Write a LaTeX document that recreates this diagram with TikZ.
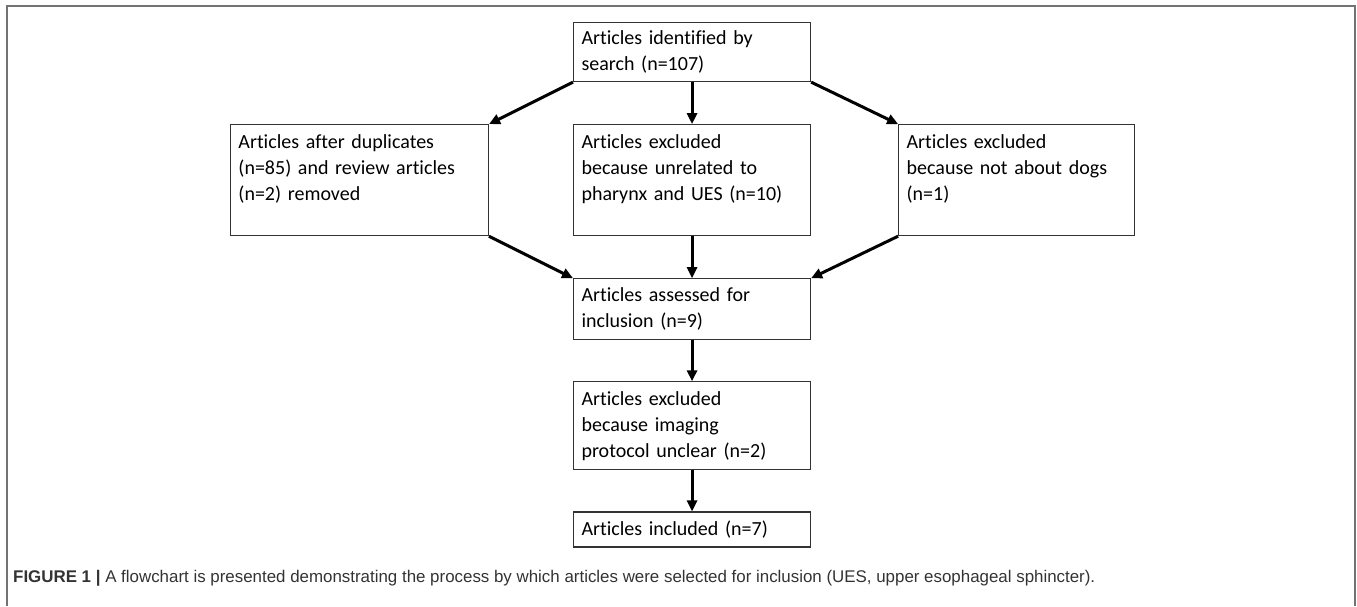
\documentclass[tikz,border=0pt]{standalone}
\usepackage{fontspec}
\setmainfont{Carlito}[Ligatures=NoCommon]
\newfontfamily\captionfont{Liberation Sans}
\usetikzlibrary{positioning,arrows.meta}

\begin{document}
\begin{tikzpicture}[x=1pt,y=-1pt]
\tikzstyle{flowbox}=[draw=black!80,line width=1.1pt,align=left,inner xsep=8pt,
  inner ysep=0pt,font=\fontsize{20}{26}\selectfont]
\tikzstyle{flowarrow}=[-{Triangle[length=11pt,width=10pt]},line width=3pt]

%% Page and outer frame
\useasboundingbox (0,0) rectangle (1357,606);
\draw[black!55,line width=1.5pt] (7,606) -- (7,6) -- (1355,6) -- (1355,606);

%% Flowchart boxes
\node [flowbox,anchor=north west,text width=221pt,minimum height=59pt] (search)
  at (573,22) {Articles identified by\\search (n=107)};
\node [flowbox,below=42pt of search,text width=221pt,minimum height=111pt] (unrelated)
  {Articles excluded\\because unrelated to\\pharynx and UES (n=10)\\\mbox{}};
\node [flowbox,left=84pt of unrelated,text width=242pt,minimum height=111pt] (duplicates)
  {Articles after duplicates\\(n=85) and review articles\\(n=2) removed\\\mbox{}};
\node [flowbox,right=87pt of unrelated,text width=220pt,minimum height=111pt] (dogs)
  {Articles excluded\\because not about dogs\\(n=1)\\\mbox{}};
\node [flowbox,below=42pt of unrelated,text width=221pt,minimum height=61pt] (assessed)
  {Articles assessed for\\inclusion (n=9)};
\node [flowbox,below=41pt of assessed,text width=221pt,minimum height=88pt] (imaging)
  {Articles excluded\\because imaging\\protocol unclear (n=2)};
\node [flowbox,below=41pt of imaging,text width=221pt,minimum height=35pt] (included)
  {Articles included (n=7)};

%% Arrows
\draw[flowarrow] (search) -- (unrelated);
\draw[flowarrow] (search.south west) -- (duplicates.north east);
\draw[flowarrow] (search.south east) -- (dogs.north west);
\draw[flowarrow] (duplicates.south east) -- (assessed.north west);
\draw[flowarrow] (unrelated) -- (assessed);
\draw[flowarrow] (dogs.south west) -- (assessed.north east);
\draw[flowarrow] (assessed) -- (imaging);
\draw[flowarrow] (imaging) -- (included);

%% Caption
\node [anchor=west,inner sep=0pt,text=black!80,font=\captionfont\fontsize{16.9}{20}\selectfont]
  (caption) at (13,578) {\textbf{FIGURE 1 |} A flowchart is presented demonstrating the
  process by which articles were selected for inclusion (UES, upper esophageal sphincter).};
\end{tikzpicture}
\end{document}
